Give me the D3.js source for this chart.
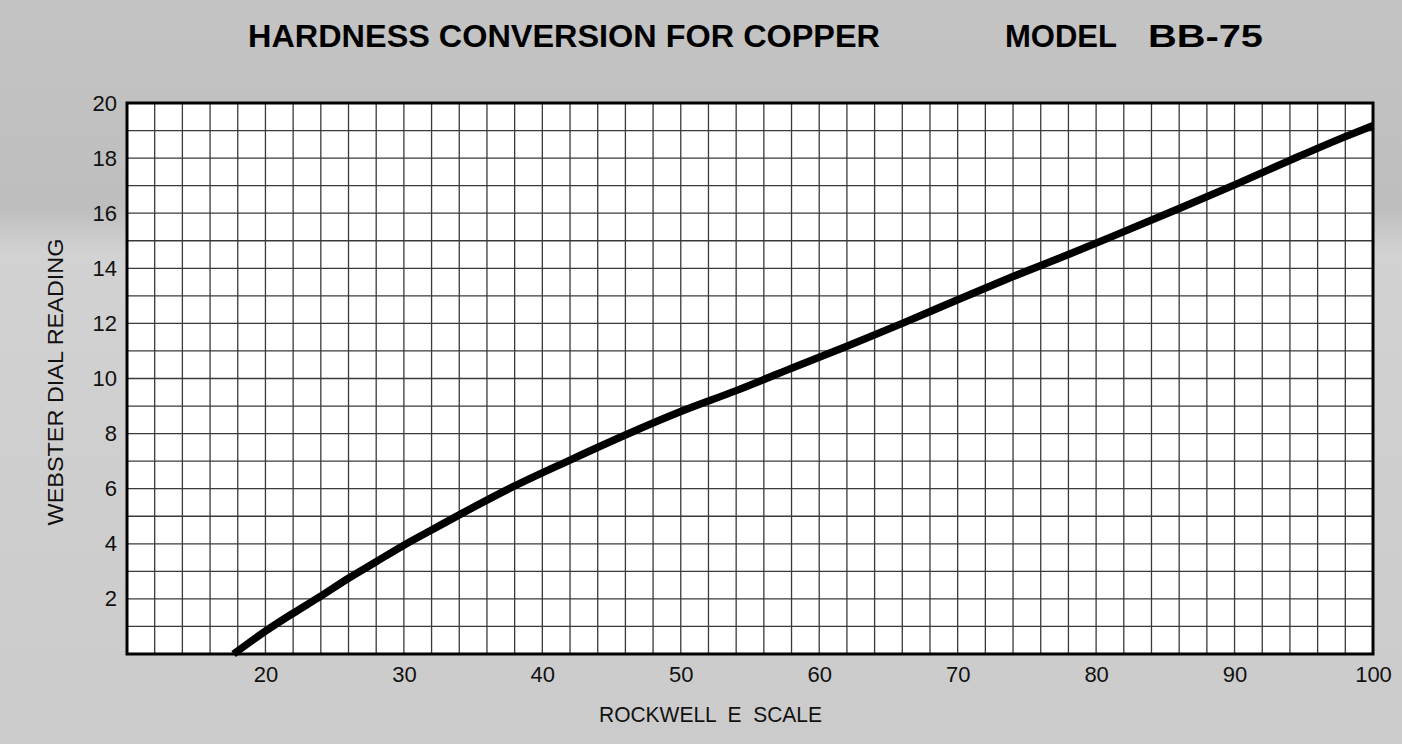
<!DOCTYPE html>
<html>
<head>
  <title>Hardness conversion</title>
  <script src="https://cdn.jsdelivr.net/npm/d3@7"></script>
  <style>
    body { margin: 0; background: #cbcbcb; }
    svg { display: block; }
    .tick text { font-family: "Liberation Sans", Arial, sans-serif; fill: #111; }
    .domain { display: none; }
  </style>
</head>
<body>
  <div id="chart-area"></div>
  <script>
    // values
    const rockwell = [17.7, 20, 22, 24, 26, 28, 30, 32, 34, 38, 42, 46, 50, 54, 58, 62, 66, 70, 74, 78, 82, 86, 90, 94, 98, 100];
    const webster = [0, 0.83, 1.48, 2.1, 2.75, 3.35, 3.95, 4.5, 5.05, 6.1, 7.04, 7.95, 8.8, 9.56, 10.37, 11.17, 12.0, 12.86, 13.7, 14.5, 15.33, 16.17, 17.03, 17.92, 18.78, 19.18];
    const xTicks = [20, 30, 40, 50, 60, 70, 80, 90, 100];
    const yTicks = [2, 4, 6, 8, 10, 12, 14, 16, 18, 20];
    const xGrid = d3.range(12, 100, 2);
    const yGrid = d3.range(1, 20, 1);

    const width = 1402;
    const height = 744;
    const margin = { top: 103, right: 29, bottom: 90, left: 127 };

    const svg = d3.select("#chart-area")
      .append("svg")
        .attr("width", width)
        .attr("height", height);

    const x = d3.scaleLinear().domain([10, 100]).range([margin.left, width - margin.right]);
    const y = d3.scaleLinear().domain([0, 20]).range([height - margin.bottom, margin.top]);

    // top of the page is a bit darker in the scan
    const grad = svg.append("defs").append("linearGradient")
      .attr("id", "paper").attr("x1", 0).attr("y1", 0).attr("x2", 0).attr("y2", 1);
    grad.append("stop").attr("offset", "0%").attr("stop-color", "#c4c4c4");
    grad.append("stop").attr("offset", "28%").attr("stop-color", "#bebebe");
    grad.append("stop").attr("offset", "34%").attr("stop-color", "#d2d2d2");
    grad.append("stop").attr("offset", "100%").attr("stop-color", "#cbcbcb");
    svg.append("rect")
      .attr("width", width).attr("height", height)
      .attr("fill", "url(#paper)");

    // plot paper
    svg.append("rect")
      .attr("x", x(10)).attr("y", y(20))
      .attr("width", x(100) - x(10)).attr("height", y(0) - y(20))
      .attr("fill", "#fff");

    // grid
    svg.append("g").selectAll("line").data(xGrid).join("line")
      .attr("x1", d => x(d)).attr("x2", d => x(d))
      .attr("y1", y(0)).attr("y2", y(20))
      .attr("stroke", "#3a3a3a").attr("stroke-width", 1.3);
    svg.append("g").selectAll("line").data(yGrid).join("line")
      .attr("y1", d => y(d)).attr("y2", d => y(d))
      .attr("x1", x(10)).attr("x2", x(100))
      .attr("stroke", "#3a3a3a").attr("stroke-width", 1.3);

    // frame
    svg.append("rect")
      .attr("x", x(10)).attr("y", y(20))
      .attr("width", x(100) - x(10)).attr("height", y(0) - y(20))
      .attr("fill", "none").attr("stroke", "#000").attr("stroke-width", 3);

    // axes
    svg.append("g")
      .attr("transform", `translate(0,${y(0)})`)
      .call(d3.axisBottom(x).tickValues(xTicks).tickSize(0).tickPadding(12))
      .selectAll("text").attr("font-size", 22);

    svg.append("g")
      .attr("transform", `translate(${x(10) - 1},0)`)
      .call(d3.axisLeft(y).tickValues(yTicks).tickSize(0).tickPadding(9))
      .selectAll("text").attr("font-size", 22);

    // curve
    const pts = rockwell.map((r, i) => [r, webster[i]]);
    svg.append("path")
      .datum(pts)
      .attr("fill", "none")
      .attr("stroke", "#000")
      .attr("stroke-width", 7.5)
      .attr("d", d3.line().x(d => x(d[0])).y(d => y(d[1])).curve(d3.curveMonotoneX));

    // titles
    const title = svg.append("g")
      .attr("font-family", "'Liberation Sans', Arial, sans-serif")
      .attr("font-weight", "bold")
      .attr("font-size", 31)
      .attr("fill", "#000");
    title.append("text").attr("x", 248).attr("y", 47)
      .attr("textLength", 632).attr("lengthAdjust", "spacingAndGlyphs")
      .text("HARDNESS CONVERSION FOR COPPER");
    title.append("text").attr("x", 1005).attr("y", 47)
      .attr("textLength", 112).attr("lengthAdjust", "spacingAndGlyphs")
      .text("MODEL");
    title.append("text").attr("x", 1148).attr("y", 47)
      .attr("textLength", 115).attr("lengthAdjust", "spacingAndGlyphs")
      .text("BB-75");

    svg.append("text")
      .attr("x", 599).attr("y", 722)
      .attr("textLength", 223).attr("lengthAdjust", "spacingAndGlyphs")
      .attr("font-family", "'Liberation Sans', Arial, sans-serif")
      .attr("font-size", 22).attr("fill", "#111")
      .attr("xml:space", "preserve")
      .text("ROCKWELL  E  SCALE");

    svg.append("text")
      .attr("transform", "translate(63,382) rotate(-90)")
      .attr("text-anchor", "middle")
      .attr("textLength", 287).attr("lengthAdjust", "spacingAndGlyphs")
      .attr("font-family", "'Liberation Sans', Arial, sans-serif")
      .attr("font-size", 22).attr("fill", "#111")
      .text("WEBSTER DIAL READING");
  </script>
</body>
</html>
